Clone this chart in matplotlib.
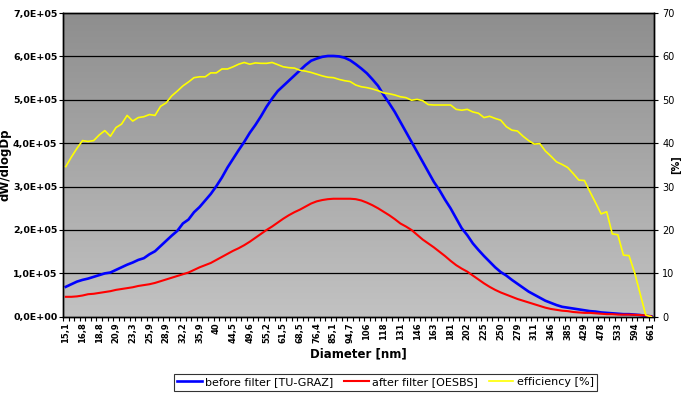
import numpy as np
import matplotlib
matplotlib.use("Agg")
import matplotlib.pyplot as plt
from matplotlib.lines import Line2D

# diameter labels shown on the axis (every 3rd channel)
tick_labels = ["15,1", "16,8", "18,8", "20,9", "23,3", "25,9", "28,9", "32,2", "35,9", "40",
               "44,5", "49,6", "55,2", "61,5", "68,5", "76,4", "85,1", "94,7", "106", "118",
               "131", "146", "163", "181", "202", "225", "250", "279", "311", "346",
               "385", "429", "478", "533", "594", "661"]

# dW/dlogDp in units of 1e5, one value per channel (106 channels)
before_filter = [0.69, 0.75, 0.81, 0.85, 0.88, 0.92, 0.96, 1.00, 1.02, 1.08,
                 1.14, 1.20, 1.25, 1.31, 1.35, 1.44, 1.51, 1.63, 1.75, 1.87,
                 1.98, 2.15, 2.24, 2.41, 2.53, 2.68, 2.83, 3.01, 3.21, 3.44,
                 3.64, 3.84, 4.03, 4.24, 4.42, 4.62, 4.84, 5.03, 5.20, 5.32,
                 5.44, 5.56, 5.68, 5.80, 5.90, 5.95, 5.99, 6.01, 6.01, 6.00,
                 5.97, 5.91, 5.82, 5.72, 5.61, 5.47, 5.32, 5.11, 4.92, 4.72,
                 4.49, 4.26, 4.03, 3.80, 3.57, 3.34, 3.11, 2.92, 2.70, 2.50,
                 2.27, 2.04, 1.88, 1.69, 1.54, 1.40, 1.27, 1.14, 1.03, 0.95,
                 0.85, 0.76, 0.67, 0.58, 0.51, 0.44, 0.37, 0.32, 0.27, 0.23,
                 0.21, 0.19, 0.17, 0.15, 0.13, 0.12, 0.10, 0.09, 0.08, 0.07,
                 0.06, 0.06, 0.05, 0.04, 0.02, 0.01]

after_filter = [0.46, 0.46, 0.47, 0.49, 0.52, 0.53, 0.55, 0.57, 0.59, 0.62,
                0.64, 0.66, 0.68, 0.71, 0.73, 0.75, 0.78, 0.82, 0.86, 0.90,
                0.94, 0.98, 1.02, 1.08, 1.14, 1.19, 1.24, 1.31, 1.38, 1.45,
                1.52, 1.58, 1.65, 1.73, 1.82, 1.91, 2.00, 2.08, 2.17, 2.26,
                2.34, 2.41, 2.47, 2.54, 2.61, 2.66, 2.69, 2.71, 2.72, 2.72,
                2.72, 2.72, 2.71, 2.68, 2.63, 2.57, 2.50, 2.42, 2.34, 2.25,
                2.15, 2.08, 2.00, 1.89, 1.78, 1.69, 1.60, 1.50, 1.40, 1.29,
                1.19, 1.11, 1.04, 0.95, 0.86, 0.77, 0.69, 0.62, 0.56, 0.51,
                0.46, 0.41, 0.37, 0.33, 0.29, 0.25, 0.21, 0.18, 0.16, 0.14,
                0.13, 0.11, 0.10, 0.09, 0.09, 0.08, 0.07, 0.06, 0.06, 0.05,
                0.05, 0.05, 0.045, 0.04, 0.03, 0.01]

# efficiency in %
efficiency = [34.6, 36.8, 38.8, 40.6, 40.4, 40.6, 41.9, 42.9, 41.6, 43.6,
              44.4, 46.4, 45.1, 45.9, 46.1, 46.6, 46.4, 48.5, 49.3, 50.9,
              52.0, 53.2, 54.1, 55.1, 55.3, 55.3, 56.2, 56.2, 57.1, 57.1,
              57.6, 58.2, 58.6, 58.2, 58.5, 58.4, 58.4, 58.6, 58.1, 57.6,
              57.4, 57.3, 56.8, 56.6, 56.3, 55.9, 55.5, 55.2, 55.1, 54.7,
              54.4, 54.2, 53.4, 53.0, 52.8, 52.5, 52.1, 51.6, 51.4, 51.1,
              50.7, 50.5, 49.9, 50.1, 49.8, 48.9, 48.8, 48.8, 48.8, 48.8,
              47.8, 47.6, 47.8, 47.2, 46.9, 45.9, 46.2, 45.7, 45.3, 43.8,
              43.0, 42.8, 41.6, 40.6, 39.8, 39.9, 38.2, 37.0, 35.7, 35.1,
              34.4, 33.0, 31.5, 31.4, 28.8, 26.3, 23.7, 24.2, 19.1, 18.9,
              14.2, 14.1, 10.2, 5.3, 0.4, 0.0]

left_ticks = [0, 1, 2, 3, 4, 5, 6, 7]
left_labels = ["0,0E+00", "1,0E+05", "2,0E+05", "3,0E+05", "4,0E+05",
               "5,0E+05", "6,0E+05", "7,0E+05"]
right_ticks = [0, 10, 20, 30, 40, 50, 60, 70]

x = np.arange(len(before_filter))

fig = plt.figure(figsize=(6.81, 3.94), dpi=100)
ax = fig.add_axes([0.0925, 0.196, 0.868, 0.771])

# grey gradient plot area
grad = np.linspace(0, 1, 256).reshape(-1, 1)
ax.imshow(grad, cmap=matplotlib.colors.LinearSegmentedColormap.from_list(
    "g", ["#8e8e8e", "#c2c2c2"]), aspect="auto", extent=[0, 1, 0, 1],
    transform=ax.transAxes, zorder=0)

for v in left_ticks[1:-1]:
    ax.axhline(v, color="black", lw=0.9, zorder=1)

ax.plot(x, before_filter, color="#0000ff", lw=1.9, zorder=3)
ax.plot(x, after_filter, color="#ff0000", lw=1.5, zorder=3)

ax.set_xlim(-0.5, len(x) - 0.5)
ax.set_ylim(0, 7)
ax.set_yticks(left_ticks)
ax.set_yticklabels(left_labels, fontsize=6.8, fontweight="bold")
ax.set_ylabel("dW/dlogDp", fontsize=8.5, fontweight="bold", labelpad=1)

ax.set_xticks(x[::3])
ax.set_xticklabels(tick_labels, rotation=90, fontsize=6, fontweight="bold")
ax.set_xticks(np.arange(-0.5, len(x), 1), minor=True)
ax.tick_params(axis="x", which="major", length=0, pad=4)
ax.tick_params(axis="x", which="minor", length=3, width=0.8)
ax.tick_params(axis="y", length=3, width=0.8, pad=1)
ax.set_xlabel("Diameter [nm]", fontsize=8.5, fontweight="bold", labelpad=3)

ax2 = ax.twinx()
ax2.plot(x, efficiency, color="#ffff00", lw=1.2, zorder=3)
ax2.set_ylim(0, 70)
ax2.set_yticks(right_ticks)
ax2.tick_params(axis="y", labelsize=7, length=3, width=0.8, pad=3)
ax2.set_ylabel("[%]", fontsize=7, fontweight="bold", rotation=90)
ax2.yaxis.set_label_coords(1.029, 0.5)

for a in (ax, ax2):
    for s in a.spines.values():
        s.set_color("black")
        s.set_linewidth(1.0)

handles = [Line2D([], [], color="#0000ff", lw=1.9),
           Line2D([], [], color="#ff0000", lw=1.5),
           Line2D([], [], color="#ffff00", lw=1.2)]
leg = fig.legend(handles, ["before filter [TU-GRAZ]", "after filter [OESBS]", "efficiency [%]"],
                 loc="center", bbox_to_anchor=(0.566, 0.03), ncol=3, fontsize=8,
                 frameon=True, fancybox=False, handlelength=2.2, handletextpad=0.3,
                 columnspacing=1.0, borderpad=0.3)
leg.get_frame().set_edgecolor("black")
leg.get_frame().set_linewidth(0.8)

fig.savefig("out.png", dpi=100, facecolor="white")
